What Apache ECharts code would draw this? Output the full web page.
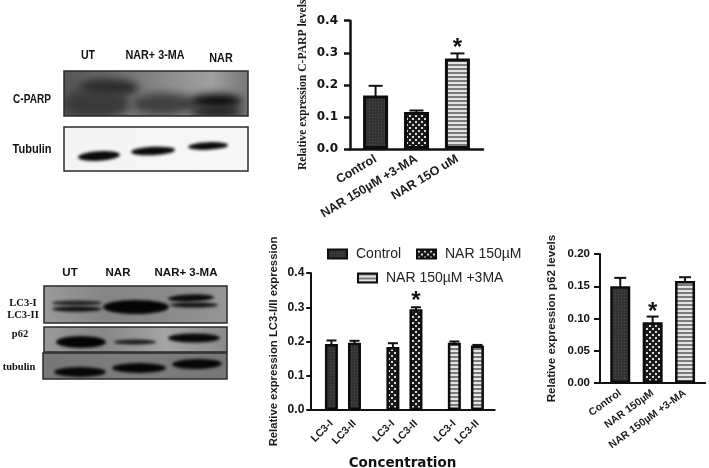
<!DOCTYPE html>
<html><head><meta charset="utf-8">
<script src="https://cdn.jsdelivr.net/npm/echarts@6/dist/echarts.min.js"></script>
<style>html,body{margin:0;padding:0;background:#fff}#c{width:709px;height:468px;filter:blur(0.45px)}</style></head>
<body><div id="c"></div>
<script>
// ---------- data ----------
const parpCategories = ['Control', 'NAR 150µM +3-MA', 'NAR 15O uM'];
const parpValues = [0.167, 0.115, 0.282];
const parpUpper = [0.197, 0.120, 0.298];
const lc3Categories = ['LC3-I', 'LC3-II', 'LC3-I', 'LC3-II', 'LC3-I', 'LC3-II'];
const lc3Control = [0.193, 0.196];
const lc3Nar = [0.184, 0.294];
const lc3NarMa = [0.196, 0.188];
const lc3Upper = [0.203, 0.202, 0.195, 0.300, 0.200, 0.190];
const p62Categories = ['Control', 'NAR 150µM', 'NAR 150µM +3-MA'];
const p62Values = [0.150, 0.094, 0.158];
const p62Upper = [0.163, 0.103, 0.164];
const legendNames = ['Control', 'NAR 150µM', 'NAR 150µM +3MA'];

// ---------- fill patterns ----------
function tile(w, h, draw) {
  const c = document.createElement('canvas'); c.width = w; c.height = h;
  draw(c.getContext('2d')); return { image: c, repeat: 'repeat' };
}
const fillDark = tile(3, 3, g => {
  g.fillStyle = '#333333'; g.fillRect(0, 0, 3, 3);
  g.fillStyle = '#4c4c4c'; g.fillRect(0, 0, 1, 1);
});
const fillDots = tile(6, 6, g => {
  g.fillStyle = '#1a1a1a'; g.fillRect(0, 0, 6, 6);
  g.fillStyle = '#d8d8d8'; g.fillRect(1, 1, 2, 2); g.fillRect(4, 4, 2, 2);
});
const fillStripes = tile(4, 4, g => {
  g.fillStyle = '#e4e4e4'; g.fillRect(0, 0, 4, 4);
  g.fillStyle = '#7a7a7a'; g.fillRect(0, 0, 4, 2);
});
const groupFills = [fillDark, fillDots, fillStripes];

// ---------- placing categories on a finer band grid ----------
function spread(items, slots, n) {
  const out = new Array(n).fill('');
  items.forEach((v, i) => { out[slots[i]] = v; });
  return out;
}
function spreadValues(items, slots, n) {
  const out = new Array(n).fill(null);
  items.forEach((v, i) => { out[slots[i]] = v; });
  return out;
}
function spreadFilled(items, slots, n) {
  const out = new Array(n).fill(null);
  items.forEach((v, i) => { out[slots[i]] = { value: v, itemStyle: { color: groupFills[i] } }; });
  return out;
}
const parpSlots = [2, 6, 10];
const lc3Slots = [5, 11, 21, 27, 37, 43];
const p62Slots = [2, 6, 10];

function errorSeries(xi, yi, slots, upper, stars, cap, starGap) {
  return {
    type: 'custom', xAxisIndex: xi, yAxisIndex: yi, silent: true, z: 1,
    data: slots.map((s, i) => [s, upper[i], stars.includes(i) ? 1 : 0]),
    encode: { x: 0, y: 1 },
    renderItem(p, api) {
      const top = api.coord([api.value(0), api.value(1)]);
      const base = api.coord([api.value(0), 0]);
      const st = { stroke: '#111', lineWidth: 2 };
      const kids = [
        { type: 'line', shape: { x1: top[0], y1: top[1], x2: base[0], y2: base[1] }, style: st },
        { type: 'line', shape: { x1: top[0] - cap, y1: top[1], x2: top[0] + cap, y2: top[1] }, style: st }
      ];
      if (api.value(2)) kids.push({
        type: 'text',
        style: { text: '*', x: top[0], y: top[1] - starGap, align: 'center', verticalAlign: 'middle',
                 font: 'bold 24px "Liberation Sans"', fill: '#111' }
      });
      return { type: 'group', children: kids };
    }
  };
}
function barSeries(name, xi, yi, data, fill, width, border) {
  return {
    name, type: 'bar', xAxisIndex: xi, yAxisIndex: yi, data, barWidth: width, barGap: '-100%', z: 2,
    itemStyle: { color: fill, borderColor: '#0c0c0c', borderWidth: border },
    emphasis: { disabled: true }
  };
}
function xAxisOf(gi, data, font, size, rot, line, margin, extra) {
  const show = (i, v) => v !== '';
  return Object.assign({
    type: 'category', gridIndex: gi, data,
    axisLine: { lineStyle: { color: '#111', width: line } },
    axisTick: { alignWithLabel: true, length: 6, interval: show, lineStyle: { color: '#111', width: line } },
    axisLabel: { interval: show, rotate: rot, margin, color: '#1a1a1a', fontFamily: font, fontWeight: 'bold', fontSize: size }
  }, extra || {});
}
function yAxisOf(gi, max, step, dec, name, gap, lblFont, lblSize, margin, tickLen, nameFont, nameSize, line) {
  return {
    type: 'value', gridIndex: gi, min: 0, max, interval: step,
    name, nameLocation: 'middle', nameGap: gap, nameRotate: 90,
    nameTextStyle: { fontFamily: nameFont, fontWeight: 'bold', fontSize: nameSize, color: '#1a1a1a' },
    splitLine: { show: false },
    axisLine: { show: true, lineStyle: { color: '#111', width: line } },
    axisTick: { show: true, length: tickLen, lineStyle: { color: '#111', width: line } },
    axisLabel: { margin, color: '#111', fontFamily: lblFont, fontWeight: 'bold', fontSize: lblSize,
                 formatter: v => v.toFixed(dec) }
  };
}

// ---------- blots (pictures drawn as images) ----------
function blot(w, h, bg, shapes, blur) {
  const c = document.createElement('canvas'); c.width = w; c.height = h;
  const g = c.getContext('2d');
  const gr = g.createLinearGradient(0, 0, w, 0);
  bg.forEach((col, i) => gr.addColorStop(i / (bg.length - 1), col));
  g.fillStyle = gr; g.fillRect(0, 0, w, h);
  g.filter = 'blur(' + blur + 'px)';
  shapes.forEach(s => {
    g.save(); g.translate(s[0], s[1]); g.rotate(s[4] || 0); g.fillStyle = s[5] || '#0a0a0a';
    g.beginPath(); g.ellipse(0, 0, s[2], s[3], 0, 0, Math.PI * 2); g.fill(); g.restore();
  });
  return c;
}
function panel(x, y, w, h, canvas) {
  return [
    { type: 'image', x, y, style: { image: canvas, x: 0, y: 0, width: w, height: h } },
    { type: 'rect', shape: { x, y, width: w, height: h }, style: { fill: 'none', stroke: '#2a2a2a', lineWidth: 1.5 } }
  ];
}
function label(text, x, y, font, sx) {
  return { type: 'text', x, y, scaleX: sx || 1, style: { text, align: 'center', verticalAlign: 'middle', font, fill: '#111' } };
}
const B1 = 'bold 12px "Liberation Sans"';
const B2 = 'bold 11.5px "Liberation Sans"';
const S1 = 'bold 10.5px "Liberation Serif"';

const graphics = [].concat(
  panel(64, 71, 184, 45, blot(184, 45, ['#555', '#666', '#7a7a7a', '#909090', '#a0a0a0', '#777'], [
    [45, 17, 30, 9, 0, '#2a2a2a'], [32, 33, 34, 14, 0, '#3a3a3a'], [100, 33, 32, 11, 0, '#404040'],
    [152, 30, 26, 7, 0, '#050505'], [152, 41, 27, 6, 0, '#1a1a1a']
  ], 4)),
  panel(64, 127, 184, 44, blot(184, 44, ['#f4f4f4', '#f7f7f7'], [
    [35, 29, 21, 4.8, -0.06], [89, 24, 22, 4.2, -0.05], [144, 19, 20, 3.8, -0.04]
  ], 1.5)),
  panel(44, 286, 183, 37, blot(183, 37, ['#9a9a9a', '#858585', '#8a8a8a', '#959595'], [
    [33, 17, 25, 2.4, 0, '#222'], [33, 23, 25, 2.8, 0, '#111'], [92, 21, 33, 7, 0, '#050505'],
    [147, 12, 23, 3.6, -0.03, '#0a0a0a'], [150, 19, 24, 2.6, 0, '#111']
  ], 1.6)),
  panel(44, 327, 183, 25, blot(183, 25, ['#999', '#888', '#a5a5a5', '#8a8a8a'], [
    [37, 15, 25, 6, 0, '#040404'], [91, 15, 21, 2.6, 0, '#1a1a1a'], [150, 11, 26, 4.6, 0, '#080808']
  ], 1.6)),
  panel(43, 353, 184, 26, blot(184, 26, ['#777', '#7d7d7d', '#777'], [
    [37, 19, 26, 5, 0, '#060606'], [96, 15, 27, 5, 0, '#060606'], [154, 11, 25, 5, -0.02, '#060606']
  ], 1.6)),
  [
    label('UT', 88, 56, B1, 0.88), label('NAR+ 3-MA', 155, 56, B1, 0.9), label('NAR', 221, 59, B1, 0.9),
    label('C-PARP', 32, 100, B1, 0.84), label('Tubulin', 32, 150, B1, 0.92),
    label('UT', 70, 273, B2), label('NAR', 118, 273, B2), label('NAR+ 3-MA', 186, 273, B2),
    label('LC3-I', 23, 303, S1), label('LC3-II', 23, 315, S1), label('p62', 20, 334, S1), label('tubulin', 19, 367, S1)
  ]
);

const LS = '"Liberation Sans"', DV = '"DejaVu Sans"', SE = '"Liberation Serif"';
const legendBase = { icon: 'rect', itemWidth: 19, itemHeight: 9, textStyle: { fontFamily: LS, fontSize: 14, color: '#222', padding: [0, 0, 0, 4] }, itemGap: 10, selectedMode: false };

const option = {
  animation: false,
  backgroundColor: '#fff',
  graphic: graphics,
  legend: [
    Object.assign({ left: 322, top: 242, data: [legendNames[0]] }, legendBase),
    Object.assign({ left: 411, top: 242, data: [legendNames[1]] }, legendBase),
    Object.assign({ left: 352, top: 266, data: [legendNames[2]] }, legendBase)
  ],
  grid: [
    { left: 350, top: 20.7, width: 133, height: 128.3, outerBoundsMode: 'none' },
    { left: 310.3, top: 273, width: 184.4, height: 137, outerBoundsMode: 'none' },
    { left: 600, top: 254, width: 105.3, height: 129, outerBoundsMode: 'none' }
  ],
  xAxis: [
    xAxisOf(0, spread(parpCategories, parpSlots, 13), LS, 12.5, 31, 2.5, 9),
    xAxisOf(1, spread(lc3Categories, lc3Slots, 48), LS, 10.5, 45, 2, 12, {
      name: 'Concentration', nameLocation: 'middle', nameGap: 46,
      nameTextStyle: { fontFamily: DV, fontWeight: 'bold', fontSize: 13.5, color: '#111' }
    }),
    xAxisOf(2, spread(p62Categories, p62Slots, 13), LS, 10.5, 36, 2, 9)
  ],
  yAxis: [
    yAxisOf(0, 0.4, 0.1, 1, 'Relative expression C-PARP levels', 41, DV, 12, 12, 6, SE, 11.6, 2.5),
    yAxisOf(1, 0.4, 0.1, 1, 'Relative expression LC3-I/II expression', 31, LS, 12, 6, 4, LS, 11.3, 2),
    yAxisOf(2, 0.2, 0.05, 2, 'Relative expression p62 levels', 42, LS, 11.5, 10, 6, LS, 11.6, 2)
  ],
  series: [
    errorSeries(0, 0, parpSlots, parpUpper, [2], 7, 5),
    barSeries('C-PARP', 0, 0, spreadFilled(parpValues, parpSlots, 13), fillDark, 25, 3),
    errorSeries(1, 1, lc3Slots, lc3Upper, [3], 5, 6),
    barSeries(legendNames[0], 1, 1, spreadValues(lc3Control, [5, 11], 48), fillDark, 13, 2.5),
    barSeries(legendNames[1], 1, 1, spreadValues(lc3Nar, [21, 27], 48), fillDots, 13, 2.5),
    barSeries(legendNames[2], 1, 1, spreadValues(lc3NarMa, [37, 43], 48), fillStripes, 13, 2.5),
    errorSeries(2, 2, p62Slots, p62Upper, [1], 6, 4),
    barSeries('p62', 2, 2, spreadFilled(p62Values, p62Slots, 13), fillDark, 20, 2.5)
  ]
};
const chart = echarts.init(document.getElementById('c'), null, { renderer: 'canvas' });
chart.setOption(option);
</script></body></html>
